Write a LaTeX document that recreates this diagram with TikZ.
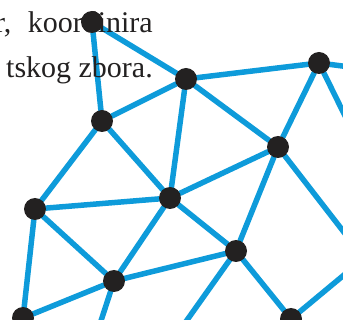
\documentclass[tikz,border=0pt]{standalone}
\usepackage{fontspec}
\setmainfont{Liberation Serif}
\usepackage{xcolor}
\definecolor{netblue}{RGB}{14,155,218}
\definecolor{dotgray}{RGB}{35,33,33}
\pgfdeclarelayer{background}
\pgfsetlayers{background,main}
\tikzstyle{hub} = [circle,fill=dotgray,inner sep=0pt,minimum size=22pt]
\tikzstyle{link} = [draw=netblue,line width=5.5pt,line cap=round]
\tikzstyle{prose} = [text=dotgray,inner sep=0pt,anchor=base east,
  font=\fontsize{30}{45}\selectfont]

\begin{document}
\begin{tikzpicture}[x=1pt,y=-1pt]
    \useasboundingbox (0,0) rectangle (343,320);
    \clip (0,0) rectangle (343,320);
    % dots of the net
    \node [hub] (a) at (92,22) {};
    \node [hub] (b) at (186,79) {};
    \node [hub] (c) at (319,63) {};
    \node [hub] (d) at (102,121) {};
    \node [hub] (e) at (278,147) {};
    \node [hub] (f) at (35,209) {};
    \node [hub] (g) at (170,198) {};
    \node [hub] (h) at (236,251) {};
    \node [hub] (i) at (114,281) {};
    \node [hub] (j) at (23,318) {};
    \node [hub] (k) at (291,319) {};
    % loose ends past the border
    \coordinate (c1) at (350,67);
    \coordinate (c2) at (350,126);
    \coordinate (e1) at (350,240);
    \coordinate (k1) at (350,270);
    \coordinate (i1) at (98,330);
    \coordinate (h1) at (180,330);
    \begin{pgfonlayer}{background}
      \path [link] (a) -- (b) (a) -- (d) (b) -- (c) (b) -- (d)
        (b) -- (g) (b) -- (e) (c) -- (e) (c) -- (c1) (c) -- (c2)
        (d) -- (f) (d) -- (g) (f) -- (g) (f) -- (j) (f) -- (i)
        (g) -- (e) (g) -- (i) (g) -- (h) (e) -- (h) (e) -- (e1)
        (i) -- (h) (i) -- (j) (i) -- (i1) (h) -- (h1) (h) -- (k)
        (k) -- (k1);
    \end{pgfonlayer}
    % text
    \node [prose] (line1) at (153,33) {r,\hspace{0.3em} koordinira};
    \node [prose] (line2) at (153,78) {tskog zbora.};
\end{tikzpicture}
\end{document}
